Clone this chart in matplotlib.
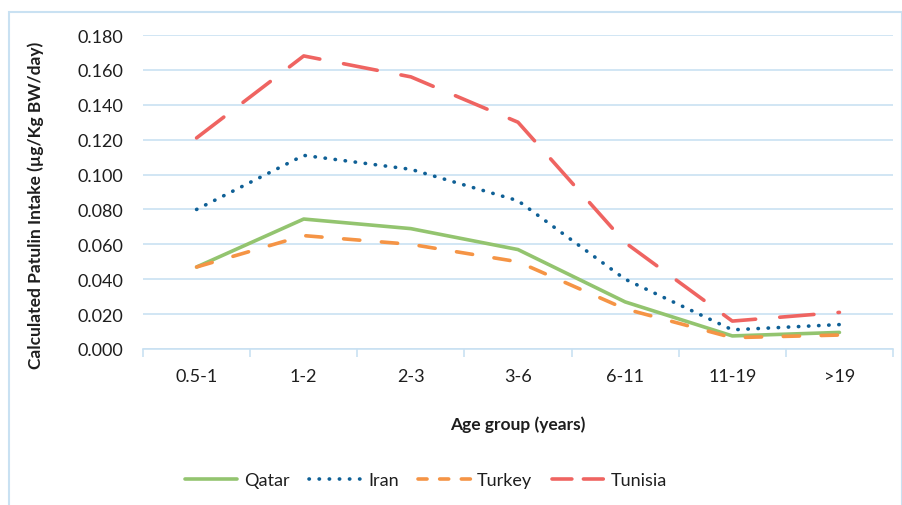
import matplotlib
matplotlib.use("Agg")
import matplotlib.pyplot as plt
from matplotlib.patches import Rectangle

age_groups = ["0.5-1", "1-2", "2-3", "3-6", "6-11", "11-19", ">19"]
qatar = [0.047, 0.0745, 0.069, 0.057, 0.027, 0.0075, 0.0095]
iran = [0.080, 0.111, 0.103, 0.085, 0.040, 0.011, 0.014]
turkey = [0.047, 0.065, 0.060, 0.050, 0.023, 0.0065, 0.008]
tunisia = [0.121, 0.168, 0.156, 0.130, 0.061, 0.016, 0.021]
y_ticks = [0.0, 0.02, 0.04, 0.06, 0.08, 0.10, 0.12, 0.14, 0.16, 0.18]

plt.rcParams['font.family'] = ['Lato', 'DejaVu Sans']
grid_col = '#C9E1F2'
text_col = '#1E1E1E'

fig = plt.figure(figsize=(9.03, 5.06), dpi=100)
fig.patches.append(Rectangle((9 / 903, -0.01), 893 / 903, 1 - 13 / 506 + 0.01,
                             transform=fig.transFigure, fill=False,
                             edgecolor=grid_col, linewidth=1.5))

ax = fig.add_axes([143 / 903, 1 - 350 / 506, 750 / 903, 314 / 506])
x = list(range(len(age_groups)))
lw = 2.6
ax.plot(x, qatar, color='#93C46F', lw=lw, solid_capstyle='round',
        solid_joinstyle='round', label='Qatar', zorder=3)
ax.plot(x, iran, color='#0F6096', lw=lw, dashes=(0.1, 2.7),
        dash_capstyle='round', label='Iran', zorder=3)
ax.plot(x, turkey, color='#F59445', lw=lw, dashes=(4.5, 6),
        dash_capstyle='round', label='Turkey', zorder=3)
ax.plot(x, tunisia, color='#EF6461', lw=lw, dashes=(9.5, 6.7),
        dash_capstyle='round', label='Tunisia', zorder=3)

ax.set_xlim(-0.5, len(age_groups) - 0.5)
ax.set_ylim(0, 0.18)
ax.set_yticks(y_ticks)
ax.set_yticklabels(["%.3f" % v for v in y_ticks])
ax.set_xticks(x)
ax.set_xticklabels(age_groups)
ax.set_xticks([i - 0.5 for i in range(len(age_groups) + 1)], minor=True)
ax.tick_params(axis='x', which='major', length=0, pad=14, labelsize=13,
               labelcolor=text_col)
ax.tick_params(axis='x', which='minor', length=6, color=grid_col, width=1.2)
ax.tick_params(axis='y', length=0, pad=14, labelsize=13, labelcolor=text_col)
ax.grid(axis='y', color=grid_col, lw=1.2)
ax.set_axisbelow(True)
for s in ['left', 'right', 'top']:
    ax.spines[s].set_visible(False)
ax.spines['bottom'].set_color(grid_col)
ax.spines['bottom'].set_linewidth(1.2)

ax.set_ylabel("Calculated Patulin Intake (µg/Kg BW/day)", fontsize=12.5,
              fontweight='bold', color=text_col)
ax.yaxis.set_label_coords(-0.132, 0.46)
ax.set_xlabel("Age group (years)", fontsize=12.5, fontweight='bold',
              color=text_col, labelpad=22)

leg = fig.legend(loc='center', bbox_to_anchor=(426 / 903, 1 - 481 / 506),
                 ncol=4, frameon=False, fontsize=13, handlelength=2.9,
                 columnspacing=1.1, handletextpad=0.35, labelcolor=text_col)
# shorter dash pattern in the legend keys so each key shows two dashes
for h, d in zip(leg.get_lines(), [None, (0.1, 2.7), (2.5, 3.5), (5.5, 3.2)]):
    if d is not None:
        h.set_dashes(d)

fig.savefig("out.png", dpi=100)
